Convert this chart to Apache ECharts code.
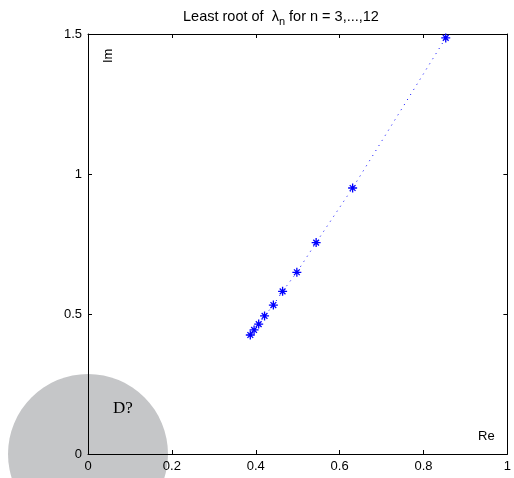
<!DOCTYPE html>
<html>
<head>
<meta charset="utf-8">
<script src="https://cdn.jsdelivr.net/npm/echarts@6/dist/echarts.min.js"></script>
<style>
  html, body { margin: 0; padding: 0; background: #fff; }
  #chart { width: 514px; height: 478px; }
</style>
</head>
<body>
<div id="chart"></div>
<script>
// least root of lambda_n, n = 3..12
const reParts = [0.853, 0.631, 0.544, 0.498, 0.464, 0.442, 0.421, 0.407, 0.396, 0.387]
const imParts = [1.486, 0.950, 0.755, 0.649, 0.581, 0.532, 0.493, 0.464, 0.443, 0.425]
const xTicks = [0, 0.2, 0.4, 0.6, 0.8, 1]
const yTicks = [0, 0.5, 1, 1.5]

const points = reParts.map((x, i) => [x, imParts[i]])

const chart = echarts.init(document.getElementById('chart'))
const font = 'Liberation Sans, Arial, sans-serif'
const star = 'path://M0,-5L0,5M-5,0L5,0M-3.2,-3.2L3.2,3.2M-3.2,3.2L3.2,-3.2'

const frame = {
  axisLine: { show: true, onZero: false, lineStyle: { color: '#000', width: 1 } },
  axisTick: { show: true, inside: true, length: 4, lineStyle: { color: '#000' } },
  splitLine: { show: false }
}

chart.setOption({
  animation: false,
  title: {
    text: 'Least root of  λ{s|n} for n = 3,...,12',
    left: 178, top: 2,
    textStyle: {
      fontFamily: font, fontSize: 14.5, fontWeight: 'normal', color: '#000',
      rich: { s: { fontFamily: font, fontSize: 11, verticalAlign: 'bottom', padding: [9, 0, 0, 0] } }
    }
  },
  grid: { left: 88, top: 34, right: 3, bottom: 24 },
  xAxis: [
    Object.assign({
      type: 'value', min: 0, max: 1, interval: 0.2, position: 'bottom',
      axisLabel: { color: '#000', fontFamily: font, fontSize: 13, margin: 6,
        formatter: v => (xTicks.includes(+v.toFixed(1)) ? String(+v.toFixed(1)) : '') }
    }, frame),
    Object.assign({
      type: 'value', min: 0, max: 1, interval: 0.2, position: 'top',
      axisLabel: { show: false }
    }, frame)
  ],
  yAxis: [
    Object.assign({
      type: 'value', min: 0, max: 1.5, interval: 0.5, position: 'left',
      axisLabel: { color: '#000', fontFamily: font, fontSize: 13, margin: 6,
        formatter: v => (yTicks.includes(v) ? String(v) : '') }
    }, frame),
    Object.assign({
      type: 'value', min: 0, max: 1.5, interval: 0.5, position: 'right',
      axisLabel: { show: false }
    }, frame)
  ],
  graphic: [
    { type: 'circle', z: -10, shape: { cx: 88, cy: 454, r: 80 }, style: { fill: '#c5c6c8' } },
    { type: 'text', z: 10, x: 113, y: 400, style: { text: 'D?', fontFamily: 'Liberation Serif, Times New Roman, serif', fontSize: 17, fill: '#000' } },
    { type: 'text', z: 10, x: 102, y: 63, rotation: Math.PI / 2, style: { text: 'Im', fontFamily: font, fontSize: 13, fill: '#000' } },
    { type: 'text', z: 10, x: 478, y: 430, style: { text: 'Re', fontFamily: font, fontSize: 13, fill: '#000' } }
  ],
  series: [
    {
      type: 'line',
      data: points,
      symbol: star,
      symbolSize: 9,
      itemStyle: { color: 'none', borderColor: '#0000ff', borderWidth: 1.3 },
      lineStyle: { color: '#0000ff', width: 1, type: [1, 5] }
    }
  ]
})
</script>
</body>
</html>
